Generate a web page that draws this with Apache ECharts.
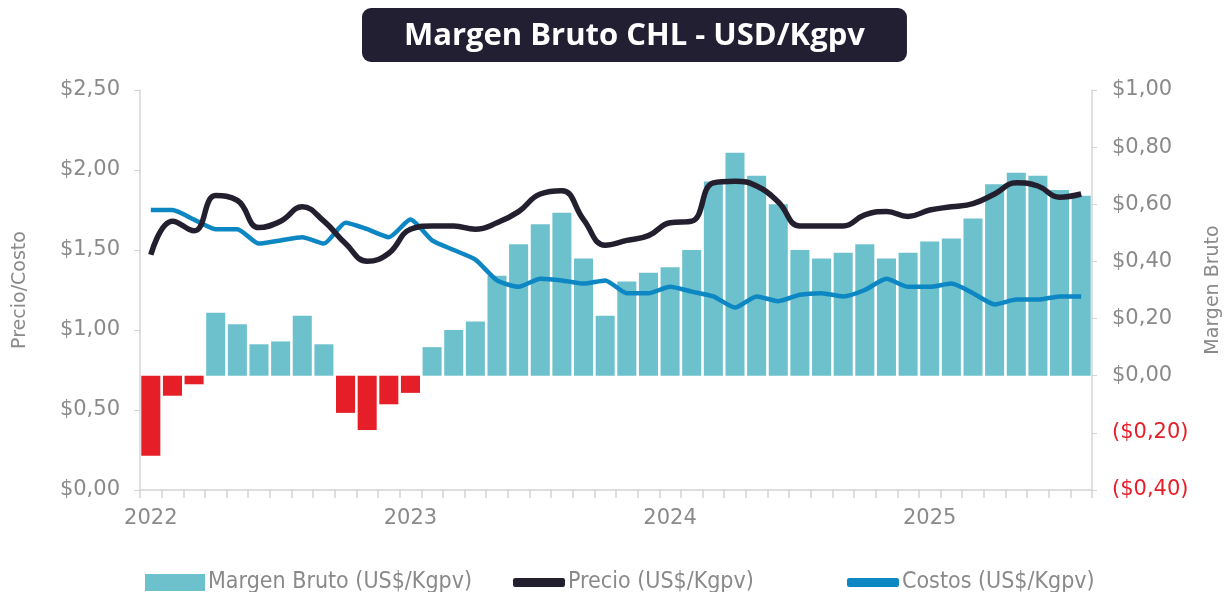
<!DOCTYPE html>
<html>
<head>
<meta charset="utf-8">
<script src="https://cdn.jsdelivr.net/npm/echarts@6/dist/echarts.min.js"></script>
<style>
  html, body { margin: 0; padding: 0; background: #fff; }
  #chart { width: 1231px; height: 592px; }
</style>
</head>
<body>
<div id="chart"></div>
<script>
// meses ene-2022 .. ago-2025
var months = [
    "2022-01", "2022-02", "2022-03", "2022-04", "2022-05", "2022-06", "2022-07", "2022-08", "2022-09", "2022-10", "2022-11", "2022-12",
    "2023-01", "2023-02", "2023-03", "2023-04", "2023-05", "2023-06", "2023-07", "2023-08", "2023-09", "2023-10", "2023-11", "2023-12",
    "2024-01", "2024-02", "2024-03", "2024-04", "2024-05", "2024-06", "2024-07", "2024-08", "2024-09", "2024-10", "2024-11", "2024-12",
    "2025-01", "2025-02", "2025-03", "2025-04", "2025-05", "2025-06", "2025-07", "2025-08"
];

// margen bruto US$/Kgpv (eje derecho)
var margen = [
    -0.28, -0.07, -0.03, 0.22, 0.18, 0.11, 0.12, 0.21, 0.11, -0.13, -0.19, -0.10,
    -0.06, 0.10, 0.16, 0.19, 0.35, 0.46, 0.53, 0.57, 0.41, 0.21, 0.33, 0.36,
    0.38, 0.44, 0.68, 0.78, 0.70, 0.60, 0.44, 0.41, 0.43, 0.46, 0.41, 0.43,
    0.47, 0.48, 0.55, 0.67, 0.71, 0.70, 0.65, 0.63
];

// precio US$/Kgpv (eje izquierdo)
var precio = [
    1.47, 1.68, 1.62, 1.84, 1.81, 1.64, 1.68, 1.77, 1.68, 1.54, 1.43, 1.48,
    1.63, 1.65, 1.65, 1.63, 1.67, 1.74, 1.85, 1.87, 1.69, 1.53, 1.56, 1.59,
    1.67, 1.68, 1.92, 1.93, 1.90, 1.80, 1.65, 1.65, 1.65, 1.72, 1.74, 1.71,
    1.75, 1.77, 1.79, 1.85, 1.92, 1.90, 1.83, 1.85
];

// costos US$/Kgpv (eje izquierdo)
var costos = [
    1.75, 1.75, 1.69, 1.63, 1.63, 1.54, 1.56, 1.58, 1.54, 1.67, 1.63, 1.58,
    1.69, 1.56, 1.50, 1.44, 1.31, 1.27, 1.32, 1.31, 1.29, 1.31, 1.23, 1.23,
    1.27, 1.24, 1.21, 1.14, 1.21, 1.18, 1.22, 1.23, 1.21, 1.25, 1.32, 1.27,
    1.27, 1.29, 1.23, 1.16, 1.19, 1.19, 1.21, 1.21
];

var seriesNames = ["Margen Bruto (US$/Kgpv)", "Precio (US$/Kgpv)", "Costos (US$/Kgpv)"];

var colorBar = "#6cc1cd";
var colorNeg = "#e61e27";
var colorPrecio = "#231f2f";
var colorCostos = "#0d87c3";
var gray = "#8a8a8a";
var axisGray = "#d4d4d4";
var labelFont = '"DejaVu Sans", sans-serif';
var legendFont = '"DejaVu Sans Condensed", "Liberation Sans Narrow", "Roboto", sans-serif';

function money(v) {
    var s = "$" + Math.abs(v).toFixed(2).replace(".", ",");
    return v < -0.0001 ? "(" + s + ")" : s;
}

// barras negativas en rojo
var margenData = margen.map(function (v) {
    return v < 0 ? {value: v, itemStyle: {color: colorNeg}} : v;
});

var chart = echarts.init(document.getElementById("chart"));

var legendText = {color: gray, fontSize: 23, fontFamily: legendFont, padding: [0, 0, 0, -2]};

var option = {
    animation: false,
    title: {
        text: "Margen Bruto CHL - USD/Kgpv",
        left: 362,
        top: 8,
        backgroundColor: "#231f33",
        borderRadius: 9,
        padding: [11, 42, 9, 42],
        textStyle: {
            color: "#ffffff",
            fontFamily: '"Open Sans", sans-serif',
            fontWeight: "bold",
            fontSize: 31,
            lineHeight: 34
        }
    },
    legend: [
        {
            data: [seriesNames[0]],
            left: 140, top: 566,
            icon: "rect", itemWidth: 60, itemHeight: 17, itemGap: 4,
            textStyle: legendText
        },
        {
            data: [seriesNames[1]],
            left: 508, top: 566,
            icon: "roundRect", itemWidth: 52, itemHeight: 9,
            textStyle: legendText
        },
        {
            data: [seriesNames[2]],
            left: 842, top: 566,
            icon: "roundRect", itemWidth: 52, itemHeight: 9,
            textStyle: legendText
        }
    ],
    grid: {left: 140, right: 139, top: 90, bottom: 102},
    xAxis: {
        type: "category",
        data: months,
        boundaryGap: true,
        axisLine: {lineStyle: {color: axisGray, width: 1.5}},
        axisTick: {show: true, interval: 0, length: 8, lineStyle: {color: axisGray, width: 1.5}},
        axisLabel: {
            interval: 0,
            margin: 18,
            color: gray,
            fontSize: 21,
            fontFamily: labelFont,
            formatter: function (v) {
                return v.slice(5) === "01" ? v.slice(0, 4) : "";
            }
        }
    },
    yAxis: [
        {
            type: "value",
            min: 0, max: 2.5, interval: 0.5,
            name: "Precio/Costo",
            nameLocation: "middle",
            nameGap: 110,
            nameTextStyle: {color: gray, fontSize: 19, fontFamily: labelFont},
            axisLine: {show: true, lineStyle: {color: axisGray, width: 1.5}},
            axisTick: {show: true, length: 6, lineStyle: {color: axisGray}},
            splitLine: {show: false},
            axisLabel: {
                margin: 20, color: gray, fontSize: 21, fontFamily: labelFont,
                formatter: money
            }
        },
        {
            type: "value",
            min: -0.4, max: 1.0, interval: 0.2,
            name: "Margen Bruto",
            nameLocation: "middle",
            nameGap: 112,
            nameTextStyle: {color: gray, fontSize: 19, fontFamily: labelFont},
            axisLine: {show: true, lineStyle: {color: axisGray, width: 1.5}},
            axisTick: {show: true, length: 5, lineStyle: {color: axisGray}},
            splitLine: {show: false},
            axisLabel: {
                margin: 20, fontSize: 21, fontFamily: labelFont,
                color: function (v) {
                    return v < -0.0001 ? colorNeg : gray;
                },
                formatter: money
            }
        }
    ],
    series: [
        {
            name: seriesNames[0],
            type: "bar",
            yAxisIndex: 1,
            data: margenData,
            color: colorBar,
            itemStyle: {color: colorBar},
            barCategoryGap: "12%",
            z: 1
        },
        {
            name: seriesNames[1],
            type: "line",
            yAxisIndex: 0,
            data: precio,
            color: colorPrecio,
            smooth: 0.45,
            symbol: "none",
            lineStyle: {color: colorPrecio, width: 5.5},
            z: 3
        },
        {
            name: seriesNames[2],
            type: "line",
            yAxisIndex: 0,
            data: costos,
            color: colorCostos,
            smooth: 0.2,
            symbol: "none",
            lineStyle: {color: colorCostos, width: 4.5},
            z: 2
        }
    ]
};

chart.setOption(option);
</script>
</body>
</html>
